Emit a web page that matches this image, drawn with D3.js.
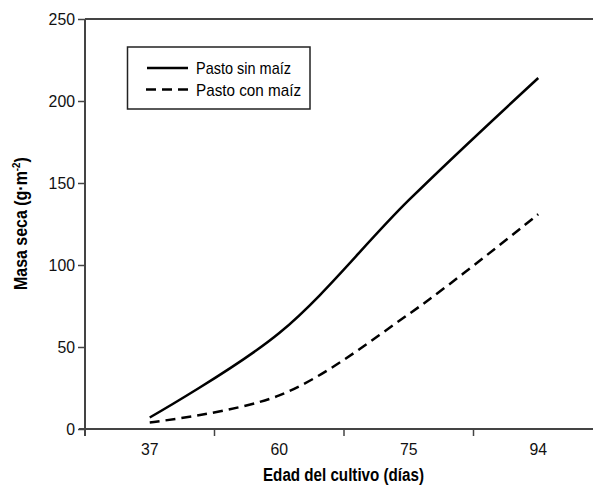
<!DOCTYPE html>
<html>
<head>
<meta charset="utf-8">
<script src="https://cdn.jsdelivr.net/npm/d3@7"></script>
<style>
  body { margin: 0; background: #fff; }
  text { font-family: "Liberation Sans", Arial, sans-serif; }
</style>
</head>
<body>
<svg id="chart" width="593" height="490"></svg>
<script>
// Datos
const dias = ["37", "60", "75", "94"];
const sinMaiz = [7, 58.5, 139.5, 214];
const conMaiz = [4, 20.5, 70, 131];
const yTicks = [0, 50, 100, 150, 200, 250];

const svg = d3.select("#chart");
const mLeft = 85, mTop = 19, mBottom = 429, mRight = 603;
const axisColor = "#444";
const digitW = 8.8; // letra condensada

const x = d3.scaleBand().domain(dias).range([mLeft, mRight]);
const y = d3.scaleLinear().domain([0, 250]).range([mBottom, mTop]);

// Eje Y
const yAxis = svg.append("g")
    .attr("transform", `translate(${mLeft},0)`)
    .call(d3.axisLeft(y).tickValues(yTicks).tickSize(7).tickPadding(3));
yAxis.select(".domain").remove();
yAxis.selectAll("line").attr("stroke", axisColor).attr("stroke-width", 1.5);
yAxis.selectAll("text")
    .attr("font-size", 17).attr("fill", "#111")
    .attr("textLength", d => String(d).length * digitW)
    .attr("lengthAdjust", "spacingAndGlyphs");

// Eje X con marcas entre categorías
const xAxis = svg.append("g")
    .attr("transform", `translate(0,${mBottom})`)
    .call(d3.axisBottom(x).tickSize(0).tickPadding(14));
xAxis.select(".domain").remove();
xAxis.selectAll("text")
    .attr("font-size", 17).attr("fill", "#111")
    .attr("textLength", d => d.length * digitW)
    .attr("lengthAdjust", "spacingAndGlyphs");
svg.append("g").selectAll("line")
    .data(dias.slice(1))
    .join("line")
    .attr("x1", d => x(d)).attr("x2", d => x(d))
    .attr("y1", mBottom).attr("y2", mBottom + 7)
    .attr("stroke", axisColor).attr("stroke-width", 1.5);

// Marco (línea superior, ejes)
svg.append("line").attr("x1", mLeft).attr("x2", mRight).attr("y1", mTop).attr("y2", mTop)
    .attr("stroke", axisColor).attr("stroke-width", 2);
svg.append("line").attr("x1", mLeft - 6).attr("x2", mRight).attr("y1", mBottom).attr("y2", mBottom)
    .attr("stroke", axisColor).attr("stroke-width", 2);
svg.append("line").attr("x1", mLeft).attr("x2", mLeft).attr("y1", mTop).attr("y2", mBottom + 7)
    .attr("stroke", axisColor).attr("stroke-width", 2);

// Curvas
const line = d3.line()
    .x((d, i) => x(dias[i]) + x.bandwidth() / 2)
    .y(d => y(d))
    .curve(d3.curveCatmullRom);

svg.append("path")
    .attr("d", line(sinMaiz))
    .attr("fill", "none")
    .attr("stroke", "#000")
    .attr("stroke-width", 2.5);

svg.append("path")
    .attr("d", line(conMaiz))
    .attr("fill", "none")
    .attr("stroke", "#000")
    .attr("stroke-width", 2.5)
    .attr("stroke-dasharray", "10,6");

// Leyenda
const leg = svg.append("g");
leg.append("rect")
    .attr("x", 127.5).attr("y", 47).attr("width", 182.5).attr("height", 62)
    .attr("fill", "#fff").attr("stroke", "#222").attr("stroke-width", 1.5);
leg.append("line").attr("x1", 147).attr("x2", 188).attr("y1", 68).attr("y2", 68)
    .attr("stroke", "#000").attr("stroke-width", 2.5);
leg.append("line").attr("x1", 146).attr("x2", 188).attr("y1", 89.5).attr("y2", 89.5)
    .attr("stroke", "#000").attr("stroke-width", 2.5).attr("stroke-dasharray", "10,6");
leg.append("text").attr("x", 196).attr("y", 74).attr("font-size", 17)
    .attr("textLength", 95).attr("lengthAdjust", "spacingAndGlyphs")
    .text("Pasto sin maíz");
leg.append("text").attr("x", 196).attr("y", 96).attr("font-size", 17)
    .attr("textLength", 105).attr("lengthAdjust", "spacingAndGlyphs")
    .text("Pasto con maíz");

// Títulos de ejes
svg.append("text")
    .attr("x", 263).attr("y", 481)
    .attr("font-size", 18).attr("font-weight", "bold")
    .attr("textLength", 161).attr("lengthAdjust", "spacingAndGlyphs")
    .text("Edad del cultivo (días)");

const yt = svg.append("text")
    .attr("font-size", 18).attr("font-weight", "bold");
yt.append("tspan").text("Masa seca (g·m");
yt.append("tspan").attr("font-size", 11).attr("dy", -7).text("-2");
yt.append("tspan").attr("dy", 7).text(")");
const ytW = yt.node().getComputedTextLength();
yt.attr("transform", `translate(27,290) rotate(-90) scale(${133 / ytW},1)`);
</script>
</body>
</html>
